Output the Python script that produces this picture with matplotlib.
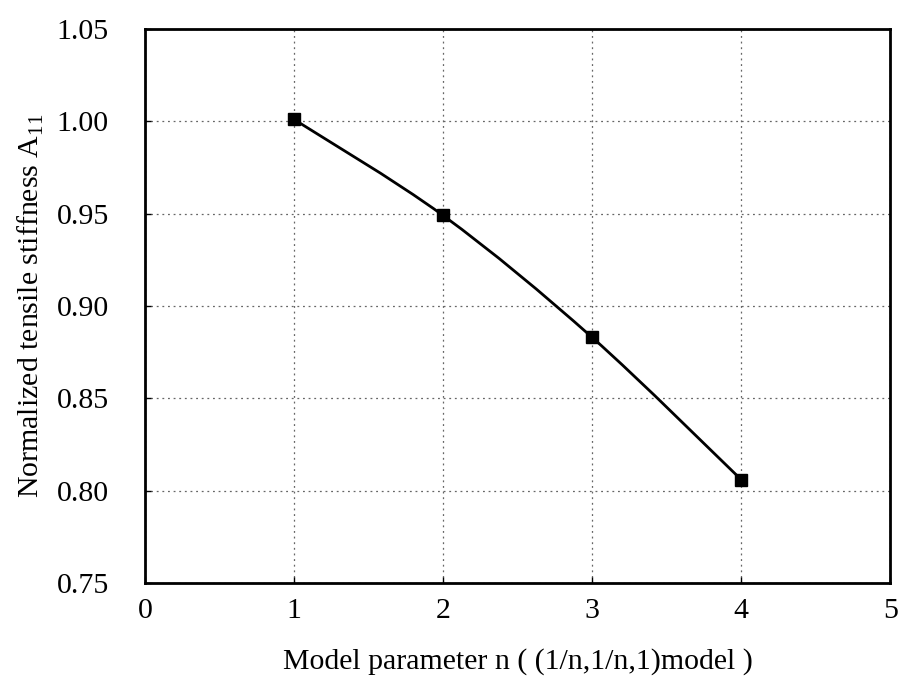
import matplotlib
matplotlib.use("Agg")
import matplotlib.pyplot as plt
from matplotlib.path import Path
from matplotlib.patches import PathPatch
import numpy as np

n_values = [1, 2, 3, 4]
stiffness = [1.001, 0.949, 0.883, 0.806]
x_ticks = [0, 1, 2, 3, 4, 5]
y_ticks = [0.75, 0.80, 0.85, 0.90, 0.95, 1.00, 1.05]

plt.rcParams['font.family'] = ['Liberation Serif', 'DejaVu Serif']
plt.rcParams['mathtext.fontset'] = 'custom'
plt.rcParams['mathtext.rm'] = 'Liberation Serif'

fig = plt.figure(figsize=(9.01, 6.93), dpi=100)
ax = fig.add_axes([0.161, 0.1587, 0.827, 0.7995])

# smoothed line (Catmull-Rom style bezier through data points, as in Excel)
xs = np.array(n_values, dtype=float)
ys = np.array(stiffness, dtype=float)
verts = [(xs[0], ys[0])]
codes = [Path.MOVETO]
N = len(xs)
for i in range(N - 1):
    p0 = (xs[i - 1], ys[i - 1]) if i > 0 else (xs[i], ys[i])
    p1 = (xs[i], ys[i])
    p2 = (xs[i + 1], ys[i + 1])
    p3 = (xs[i + 2], ys[i + 2]) if i + 2 < N else p2
    c1 = (p1[0] + (p2[0] - p0[0]) / 6, p1[1] + (p2[1] - p0[1]) / 6)
    c2 = (p2[0] - (p3[0] - p1[0]) / 6, p2[1] - (p3[1] - p1[1]) / 6)
    verts += [c1, c2, p2]
    codes += [Path.CURVE4] * 3
ax.add_patch(PathPatch(Path(verts, codes), facecolor='none', edgecolor='black', lw=2.0, zorder=3))
ax.plot(n_values, stiffness, linestyle='none', marker='s', color='black', markersize=9, zorder=4)

ax.set_xlim(0, 5)
ax.set_ylim(0.75, 1.05)
ax.set_xticks(x_ticks)
ax.set_yticks(y_ticks)
ax.set_yticklabels([f"{v:.2f}" for v in y_ticks])
ax.tick_params(axis='both', direction='in', length=4, width=1, labelsize=21.5)
ax.tick_params(axis='y', pad=26)
ax.tick_params(axis='x', pad=11)
ax.grid(True, linestyle=(0, (1.5, 3)), color='#666666', linewidth=0.9)
for s in ax.spines.values():
    s.set_linewidth(2.0)
    s.set_color('black')

ax.set_xlabel("Model parameter n ( (1/n,1/n,1)model )", fontsize=21.5, labelpad=17)
ax.set_ylabel("Normalized tensile stiffness A$_{\\mathrm{11}}$", fontsize=21.5, labelpad=8)

fig.savefig("out.png", dpi=100)
